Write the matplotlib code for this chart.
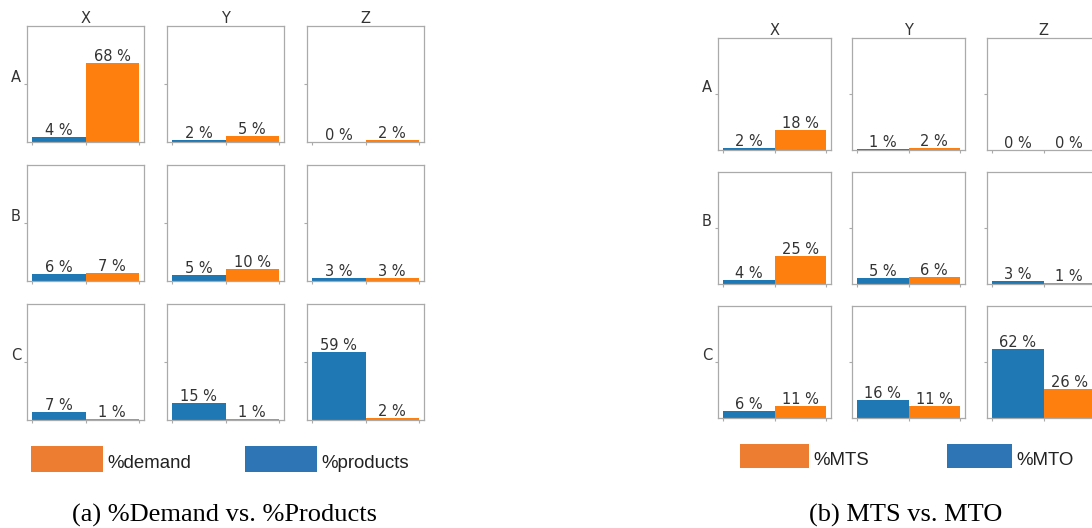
import matplotlib
matplotlib.use("Agg")
import matplotlib.pyplot as plt
from matplotlib.patches import Rectangle

# ---- data -------------------------------------------------------------
rows = ["A", "B", "C"]
cols = ["X", "Y", "Z"]

# panel (a): share of products (blue) and share of demand (orange)
products_pct = [[4, 2, 0],
                [6, 5, 3],
                [7, 15, 59]]
demand_pct = [[68, 5, 2],
              [7, 10, 3],
              [1, 1, 2]]

# panel (b): make-to-order (blue) and make-to-stock (orange)
mto_pct = [[2, 1, 0],
           [4, 5, 3],
           [6, 16, 62]]
mts_pct = [[18, 2, 0],
           [25, 6, 1],
           [11, 11, 26]]

legend_a = ["%demand", "%products"]
legend_b = ["%MTS", "%MTO"]
captions = ["(a) %Demand vs. %Products", "(b) MTS vs. MTO"]

# ---- style ------------------------------------------------------------
W, H = 1092, 528
BLUE = "#1f77b4"
ORANGE = "#ff7f0e"
LEG_BLUE = "#2e75b6"
LEG_ORANGE = "#ed7d31"
SPINE = "#aaaaaa"
TEXT = "#333333"
PX = 72 / 100  # points per pixel at dpi 100

fig = plt.figure(figsize=(W / 100, H / 100), dpi=100)
fig.patch.set_facecolor("white")


def px_rect(left, top, w, h):
    return [left / W, 1 - (top + h) / H, w / W, h / H]


def fy(y):
    return 1 - y / H


def draw_grid(lefts, tops, w, h, blue, orange):
    for i, r in enumerate(rows):
        for j, c in enumerate(cols):
            ax = fig.add_axes(px_rect(lefts[j], tops[i], w, h))
            ax.bar([0], [blue[i][j]], width=1, align="edge", color=BLUE,
                   linewidth=0)
            ax.bar([1], [orange[i][j]], width=1, align="edge", color=ORANGE,
                   linewidth=0)
            ax.set_xlim(-0.1, 2.1)
            ax.set_ylim(0, 100)
            ax.set_xticks([0, 1, 2])
            ax.set_yticks([50])
            ax.set_xticklabels([])
            ax.set_yticklabels([])
            ax.tick_params(length=2.5, width=0.8, color=SPINE)
            for s in ax.spines.values():
                s.set_color(SPINE)
                s.set_linewidth(0.9)
            for x, v in ((0.5, blue[i][j]), (1.5, orange[i][j])):
                ax.annotate(f"{v} %", xy=(x, v), xytext=(0, 2 * PX),
                            textcoords="offset points", ha="center",
                            va="baseline", fontsize=10.5, color=TEXT,
                            annotation_clip=False)
            if i == 0:
                ax.set_title(c, pad=2 * PX, fontsize=10.5, color=TEXT)
            if j == 0:
                ax.annotate(r, xy=(0, 0.5), xycoords="axes fraction",
                            xytext=(-11 * PX, 2 * PX),
                            textcoords="offset points", ha="center",
                            va="baseline", fontsize=10.5, color=TEXT)


def draw_legend(items, colors, boxes, text_x, baseline):
    for label, col, (x0, y0, x1, y1), tx in zip(items, colors, boxes, text_x):
        fig.add_artist(Rectangle((x0 / W, fy(y1)), (x1 - x0) / W,
                                 (y1 - y0) / H, transform=fig.transFigure,
                                 facecolor=col, edgecolor="none"))
        fig.text(tx / W, fy(baseline), label, ha="left", va="baseline",
                 fontsize=13.4, family=["Liberation Sans", "DejaVu Sans"],
                 color="#222222")


# panel (a)
draw_grid([27, 167, 307], [26, 165, 304], 117, 116,
          products_pct, demand_pct)
draw_legend(legend_a, [LEG_ORANGE, LEG_BLUE],
            [(31, 446, 103, 472), (245, 446, 317, 472)], [107, 321], 468)

# panel (b)
draw_grid([718, 852, 987], [38, 172, 306], 113, 112,
          mto_pct, mts_pct)
draw_legend(legend_b, [LEG_ORANGE, LEG_BLUE],
            [(740, 444, 809, 468), (947, 444, 1012, 468)], [813, 1016], 465)

# captions
fig.text(225 / W, fy(522), captions[0], ha="center", va="baseline",
         fontsize=19, family=["Liberation Serif", "DejaVu Serif"],
         color="black")
fig.text(905.5 / W, fy(522), captions[1], ha="center", va="baseline",
         fontsize=19, family=["Liberation Serif", "DejaVu Serif"],
         color="black")

fig.savefig("out.png", dpi=100, facecolor="white")
